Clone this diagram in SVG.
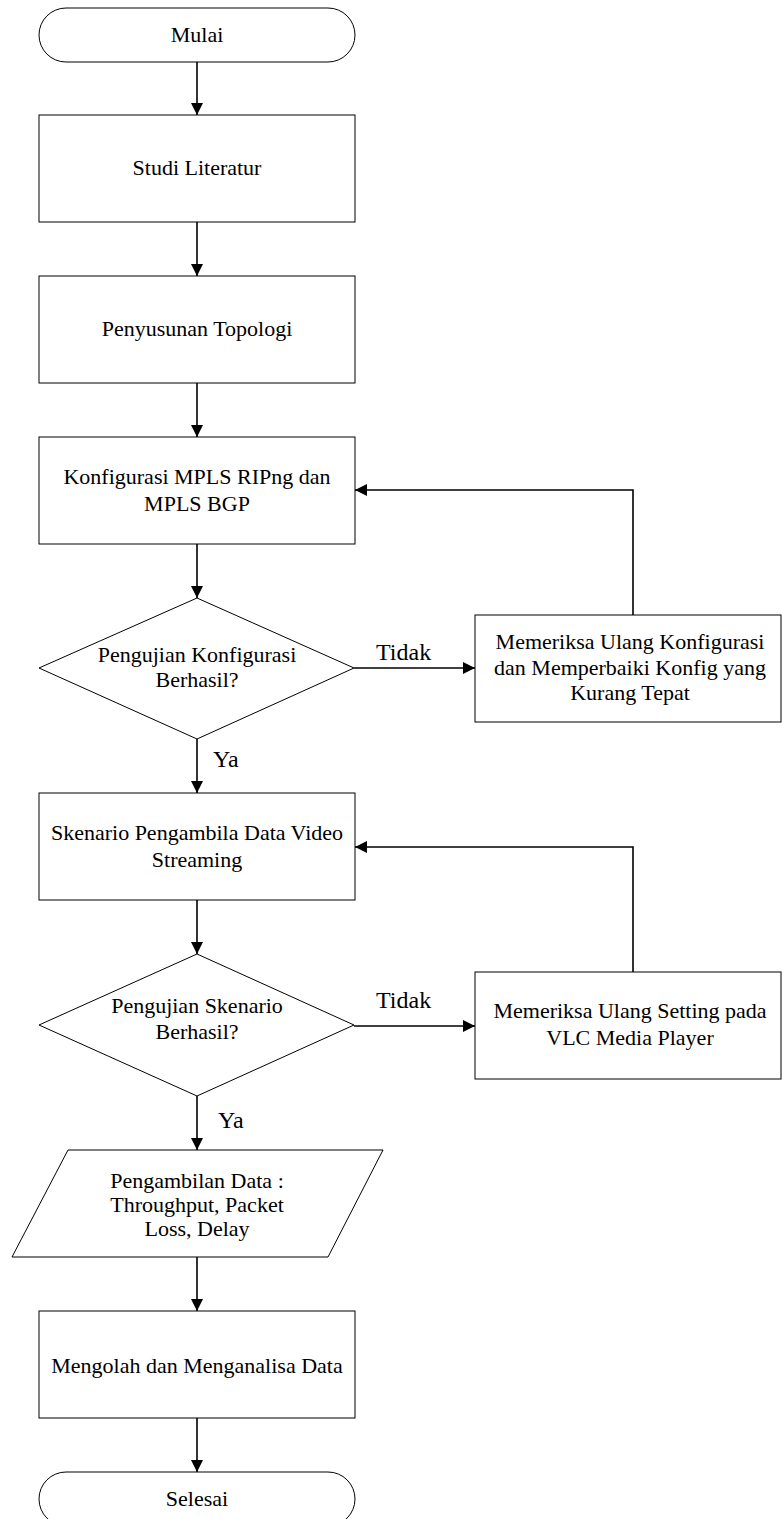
<svg xmlns="http://www.w3.org/2000/svg" width="782" height="1519" viewBox="0 0 782 1519">
<style>
.s{fill:#fff;stroke:#000;stroke-width:1}
.t{font-family:"Liberation Serif","Times New Roman",serif;font-size:22px;fill:#000;text-anchor:middle}
.l{font-family:"Liberation Serif","Times New Roman",serif;font-size:24px;fill:#000}
.c{fill:none;stroke:#000;stroke-width:1.6}
</style>
<defs>
<marker id="a" markerUnits="userSpaceOnUse" markerWidth="14" markerHeight="14" viewBox="0 0 14 14" refX="13" refY="7" orient="auto">
<path d="M1,1 L13,7 L1,13 Z" fill="#000"/>
</marker>
</defs>
<rect width="782" height="1519" fill="#fff"/>
<g id="connectors">
<path class="c" d="M197,62 V115" marker-end="url(#a)"/>
<path class="c" d="M197,222 V276" marker-end="url(#a)"/>
<path class="c" d="M197,383 V437" marker-end="url(#a)"/>
<path class="c" d="M197,544 V598" marker-end="url(#a)"/>
<path class="c" d="M197,739 V793" marker-end="url(#a)"/>
<path class="c" d="M354,668 H475" marker-end="url(#a)"/>
<path class="c" d="M633,615 V490 H355" marker-end="url(#a)"/>
<path class="c" d="M197,900 V954" marker-end="url(#a)"/>
<path class="c" d="M354,1026 H475" marker-end="url(#a)"/>
<path class="c" d="M633,972 V847 H355" marker-end="url(#a)"/>
<path class="c" d="M197,1096 V1150" marker-end="url(#a)"/>
<path class="c" d="M197,1257 V1311" marker-end="url(#a)"/>
<path class="c" d="M197,1418 V1472" marker-end="url(#a)"/>
<text class="l" x="213" y="767">Ya</text>
<text class="l" x="376" y="660">Tidak</text>
<text class="l" x="218" y="1128">Ya</text>
<text class="l" x="376" y="1008">Tidak</text>
</g>
<g id="mulai">
<rect class="s" x="39" y="8" width="316" height="54" rx="27" ry="27"/>
<text class="t" x="197" y="42">Mulai</text>
</g>
<g id="studi">
<rect class="s" x="39" y="115" width="316" height="107"/>
<text class="t" x="197" y="175">Studi Literatur</text>
</g>
<g id="topologi">
<rect class="s" x="39" y="276" width="316" height="107"/>
<text class="t" x="197" y="336">Penyusunan Topologi</text>
</g>
<g id="konfigurasi">
<rect class="s" x="39" y="437" width="316" height="107"/>
<text class="t" x="197" y="484">Konfigurasi MPLS RIPng dan</text>
<text class="t" x="197" y="511">MPLS BGP</text>
</g>
<g id="uji-konfigurasi">
<polygon class="s" points="197,598 354,668 197,739 39,668"/>
<text class="t" x="197" y="662">Pengujian Konfigurasi</text>
<text class="t" x="197" y="687">Berhasil?</text>
</g>
<g id="periksa-konfigurasi">
<rect class="s" x="475" y="615" width="306" height="107"/>
<text class="t" x="630" y="649">Memeriksa Ulang Konfigurasi</text>
<text class="t" x="630" y="675">dan Memperbaiki Konfig yang</text>
<text class="t" x="630" y="700">Kurang Tepat</text>
</g>
<g id="skenario">
<rect class="s" x="39" y="793" width="316" height="107"/>
<text class="t" x="197" y="840">Skenario Pengambila Data Video</text>
<text class="t" x="197" y="867">Streaming</text>
</g>
<g id="uji-skenario">
<polygon class="s" points="197,954 354,1025 197,1096 39,1025"/>
<text class="t" x="197" y="1013">Pengujian Skenario</text>
<text class="t" x="197" y="1039">Berhasil?</text>
</g>
<g id="periksa-vlc">
<rect class="s" x="475" y="972" width="306" height="107"/>
<text class="t" x="630" y="1018">Memeriksa Ulang Setting pada</text>
<text class="t" x="630" y="1045">VLC Media Player</text>
</g>
<g id="pengambilan-data">
<polygon class="s" points="68,1150 383,1150 328,1257 12,1257"/>
<text class="t" x="197" y="1188">Pengambilan Data :</text>
<text class="t" x="197" y="1212">Throughput, Packet</text>
<text class="t" x="197" y="1236">Loss, Delay</text>
</g>
<g id="mengolah">
<rect class="s" x="39" y="1311" width="316" height="107"/>
<text class="t" x="197" y="1373">Mengolah dan Menganalisa Data</text>
</g>
<g id="selesai">
<rect class="s" x="39" y="1472" width="316" height="54" rx="27" ry="27"/>
<text class="t" x="197" y="1506">Selesai</text>
</g>
</svg>
